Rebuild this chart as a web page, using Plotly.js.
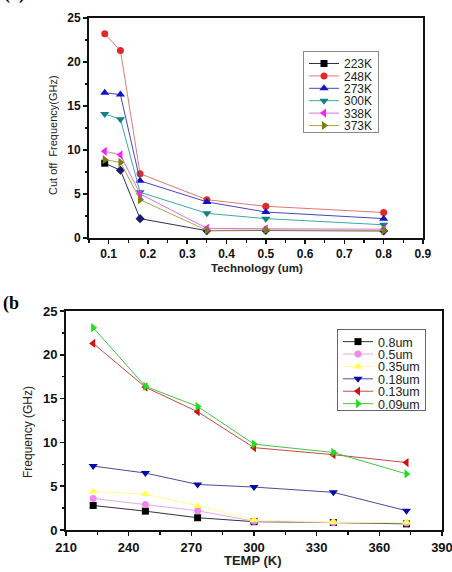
<!DOCTYPE html>
<html>
<head>
<meta charset="utf-8">
<script src="https://cdn.plot.ly/plotly-3.0.1.min.js"></script>
<style>
  html, body { margin: 0; padding: 0; background: #fff; }
  #chart { width: 452px; height: 572px; }
</style>
</head>
<body>
<div id="chart"></div>
<script>
// (a) cut-off frequency vs technology node, one series per temperature
const techNodes = [0.09, 0.13, 0.18, 0.35, 0.5, 0.8];
const tempNames = ['223K', '248K', '273K', '300K', '338K', '373K'];
const f223 = [8.5, 7.7, 2.2, 0.83, 0.85, 0.8];
const f248 = [23.2, 21.3, 7.3, 4.35, 3.6, 2.9];
const f273 = [16.5, 16.3, 6.5, 4.1, 2.95, 2.2];
const f300 = [14.1, 13.5, 5.2, 2.8, 2.2, 1.5];
const f338 = [9.85, 9.45, 5.0, 1.1, 1.05, 1.0];
const f373 = [8.9, 8.6, 4.35, 0.87, 0.9, 0.85];

// (b) frequency vs temperature, one series per technology node
const temps = [223, 248, 273, 300, 338, 373];
const nodeNames = ['0.8um', '0.5um', '0.35um', '0.18um', '0.13um', '0.09um'];
const g080 = [2.8, 2.15, 1.4, 0.95, 0.85, 0.7];
const g050 = [3.6, 2.9, 2.2, 1.0, 0.85, 0.8];
const g035 = [4.4, 4.1, 2.75, 1.15, 0.9, 0.85];
const g018 = [7.3, 6.5, 5.2, 4.9, 4.3, 2.2];
const g013 = [21.3, 16.3, 13.5, 9.4, 8.6, 7.7];
const g009 = [23.1, 16.4, 14.1, 9.8, 8.85, 6.4];

function series(x, y, name, lineColor, marker, xa, ya, legendId) {
  return {
    type: 'scatter', mode: 'lines+markers', x: x, y: y, name: name,
    xaxis: xa, yaxis: ya, legend: legendId,
    line: { color: lineColor, width: 1 },
    marker: Object.assign({ size: 7, line: { width: 0 } }, marker),
    hoverinfo: 'skip'
  };
}

const diamondRest = techNodes.map((_, i) => i === 0 ? 'square' : 'diamond');
const darkRest = techNodes.map((_, i) => i === 0 ? '#000000' : '#1b1b6e');

const traces = [
  series(techNodes, f223, tempNames[0], '#2e2e5c', { symbol: diamondRest, color: darkRest }, 'x', 'y', 'legend'),
  series(techNodes, f248, tempNames[1], '#e07878', { symbol: 'circle', color: '#e02a2a' }, 'x', 'y', 'legend'),
  series(techNodes, f273, tempNames[2], '#4848b8', { symbol: 'triangle-up', color: '#1414c4', size: 8 }, 'x', 'y', 'legend'),
  series(techNodes, f300, tempNames[3], '#40a8a8', { symbol: 'triangle-down', color: '#128282', size: 8 }, 'x', 'y', 'legend'),
  series(techNodes, f338, tempNames[4], '#e070e0', { symbol: 'triangle-left', color: '#f028f0', size: 8 }, 'x', 'y', 'legend'),
  series(techNodes, f373, tempNames[5], '#a8a850', { symbol: 'triangle-right', color: '#7c7c10', size: 8 }, 'x', 'y', 'legend'),

  series(temps, g080, nodeNames[0], '#333333', { symbol: 'square', color: '#000000' }, 'x2', 'y2', 'legend2'),
  series(temps, g050, nodeNames[1], '#e8a8e8', { symbol: 'circle', color: '#ee88ee' }, 'x2', 'y2', 'legend2'),
  series(temps, g035, nodeNames[2], '#ffff99', { symbol: 'triangle-up', color: '#ffff55', size: 8 }, 'x2', 'y2', 'legend2'),
  series(temps, g018, nodeNames[3], '#4a4aa0', { symbol: 'triangle-down', color: '#0a0aa8', size: 8 }, 'x2', 'y2', 'legend2'),
  series(temps, g013, nodeNames[4], '#c84848', { symbol: 'triangle-left', color: '#cc1414', size: 8 }, 'x2', 'y2', 'legend2'),
  series(temps, g009, nodeNames[5], '#44c444', { symbol: 'triangle-right', color: '#22dd22', size: 8 }, 'x2', 'y2', 'legend2')
];

const W = 452, H = 572;
const px = v => v / W;
const py = v => 1 - v / H;

const sans = 'Liberation Sans, Arial, sans-serif';
const serif = 'Liberation Serif, Times New Roman, serif';

function axisStyle(extra, fontSize) {
  return Object.assign({
    showline: true, linecolor: '#111', linewidth: 2, mirror: true,
    showgrid: false, zeroline: false,
    ticks: 'outside', ticklen: 4, tickwidth: 1.5, tickcolor: '#111',
    ticklabeloverflow: 'allow',
    tickfont: { family: sans, size: fontSize, color: '#111', weight: 'bold' },
    fixedrange: true
  }, extra);
}

const minorTicks = d => ({ ticks: 'outside', ticklen: 2.5, tickcolor: '#111', tickwidth: 1.2, dtick: d });

const layout = {
  width: W, height: H,
  margin: { l: 0, r: 0, t: 0, b: 0 },
  paper_bgcolor: '#fff', plot_bgcolor: '#fff',
  showlegend: true,
  xaxis: axisStyle({
    domain: [px(89), px(423)], range: [0.05, 0.9001], anchor: 'y',
    tickmode: 'linear', tick0: 0.1, dtick: 0.1,
    minor: Object.assign(minorTicks(0.05), { tick0: 0.05 })
  }, 12),
  yaxis: axisStyle({
    domain: [py(238), py(18)], range: [-0.001, 25.001], anchor: 'x',
    tickmode: 'linear', tick0: 0, dtick: 5,
    minor: minorTicks(2.5)
  }, 12),
  xaxis2: axisStyle({
    domain: [px(66), px(442)], range: [209.99, 390.01], anchor: 'y2',
    tickmode: 'linear', tick0: 210, dtick: 30,
    minor: minorTicks(15)
  }, 13),
  yaxis2: axisStyle({
    domain: [py(530), py(311)], range: [-0.001, 25.001], anchor: 'x2',
    tickmode: 'linear', tick0: 0, dtick: 5,
    minor: minorTicks(2.5)
  }, 13),
  legend: {
    x: px(303), y: py(51), xanchor: 'left', yanchor: 'top',
    bgcolor: '#fff', bordercolor: '#8a8a8a', borderwidth: 1,
    font: { family: sans, size: 12, color: '#222' },
    tracegroupgap: 0, itemclick: false, itemdoubleclick: false
  },
  legend2: {
    x: px(337), y: py(329), xanchor: 'left', yanchor: 'top',
    bgcolor: '#fff', bordercolor: '#666', borderwidth: 1,
    font: { family: sans, size: 12.5, color: '#222' },
    tracegroupgap: 0, itemclick: false, itemdoubleclick: false
  },
  shapes: [
    { type: 'rect', xref: 'paper', yref: 'paper',
      x0: px(304), x1: px(335), y0: py(64), y1: py(52),
      line: { color: '#c04040', width: 1 } },
    { type: 'rect', xref: 'paper', yref: 'paper',
      x0: px(340), x1: px(372), y0: py(343), y1: py(331),
      line: { color: '#c04040', width: 1 } }
  ],
  annotations: [
    { text: '(a)', xref: 'paper', yref: 'paper', x: px(2), y: py(6), xanchor: 'left', yanchor: 'bottom',
      showarrow: false, font: { family: serif, size: 18, color: '#000', weight: 'bold' } },
    { text: '(b', xref: 'paper', yref: 'paper', x: px(1), y: py(303), xanchor: 'left', yanchor: 'middle',
      showarrow: false, font: { family: serif, size: 18, color: '#000', weight: 'bold' } },
    { text: 'Cut off\u00a0 Frequency(GHz)', xref: 'paper', yref: 'paper', x: px(53), y: py(135),
      xanchor: 'center', yanchor: 'middle', textangle: -90, showarrow: false,
      font: { family: sans, size: 11, color: '#222' } },
    { text: 'Technology (um)', xref: 'paper', yref: 'paper', x: px(257), y: py(268),
      xanchor: 'center', yanchor: 'middle', showarrow: false,
      font: { family: sans, size: 11.5, color: '#222', weight: 'bold' } },
    { text: 'Frequency (GHz)', xref: 'paper', yref: 'paper', x: px(28), y: py(432),
      xanchor: 'center', yanchor: 'middle', textangle: -90, showarrow: false,
      font: { family: sans, size: 12, color: '#222' } },
    { text: 'TEMP (K)', xref: 'paper', yref: 'paper', x: px(253), y: py(560),
      xanchor: 'center', yanchor: 'middle', showarrow: false,
      font: { family: sans, size: 13, color: '#222', weight: 'bold' } }
  ]
};

// Plotly keeps legend rows at least 19px apart; pack them tighter.
function tightenLegend(cls, step, lift, trim) {
  const g = document.querySelector('g.' + cls);
  if (!g) return;
  const items = g.querySelectorAll('g.traces');
  if (items.length < 2) return;
  const parse = el => {
    const m = /translate\(\s*([-\d.eE]+)[ ,]+([-\d.eE]+)\s*\)/.exec(el.getAttribute('transform') || '');
    return m ? [+m[1], +m[2]] : [0, 0];
  };
  const first = parse(items[0]);
  const orig = parse(items[1])[1] - first[1];
  items.forEach((it, i) => {
    it.setAttribute('transform', 'translate(' + first[0] + ',' + (first[1] - lift + i * step) + ')');
  });
  const bg = g.querySelector('rect.bg');
  if (bg) {
    const h = +bg.getAttribute('height');
    bg.setAttribute('height', h - (items.length - 1) * (orig - step) - 2 * lift - trim);
  }
}

Plotly.newPlot('chart', traces, layout, { displayModeBar: false, staticPlot: true }).then(() => {
  tightenLegend('legend', 12.4, 3, 5);
  tightenLegend('legend2', 12.4, 3, 6);
});
</script>
</body>
</html>
